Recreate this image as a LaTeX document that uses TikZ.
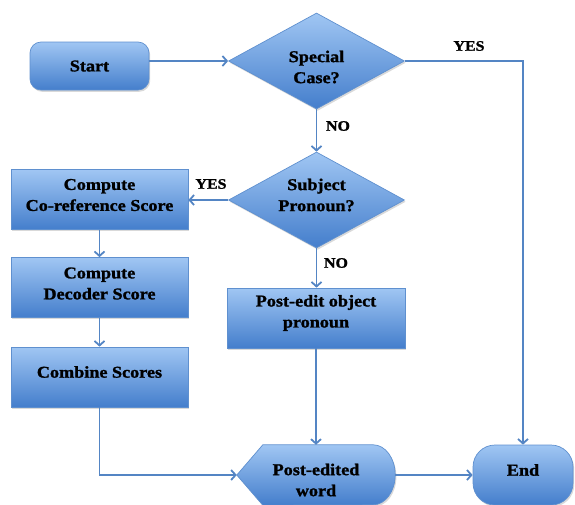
\documentclass[tikz,border=0pt]{standalone}
\usepackage{fontspec}
\setmainfont{Liberation Serif}[FakeStretch=1.1, BoldFeatures={FakeBold=1.3}]
\usetikzlibrary{shapes.geometric,arrows.meta,shadows,calc}
\pgfdeclarelayer{background}
\pgfsetlayers{background,main}
\definecolor{boxtop}{RGB}{160,198,243}
\definecolor{boxbot}{RGB}{68,126,204}
\definecolor{boxline}{RGB}{95,144,207}
\definecolor{arrowc}{RGB}{84,133,196}
\newcommand\labelfont{\fontsize{16.5}{21}\selectfont\bfseries}
\newcommand\tagfont{\fontsize{14.5}{16}\selectfont\bfseries}
\tikzset{
  shade/.style={top color=boxtop, bottom color=boxbot, draw=boxline, line width=0.7pt,
    drop shadow={shadow xshift=1.2pt, shadow yshift=-1.8pt, opacity=0.3}},
  box/.style={shade, rectangle, inner sep=0pt, minimum width=177pt, minimum height=60pt},
  termbox/.style={shade, rectangle, rounded corners=11pt, inner sep=0pt},
  decision/.style={shade, diamond, aspect=1.83, minimum width=176pt, minimum height=96pt, inner sep=0pt},
  txt/.style={font=\labelfont, align=center, inner sep=0pt},
  tag/.style={font=\tagfont, inner sep=0pt},
  arr/.style={draw=arrowc, line width=1.8pt, -{Straight Barb[length=4.5pt,width=10pt]}},
}
\begin{document}
\begin{tikzpicture}[x=1pt, y=-1pt]
\useasboundingbox (0,0) rectangle (575,504);

\node[termbox, minimum width=119pt, minimum height=48pt,
  label={[txt]center:Start}] (start) at (89.5,66) {};
\node[decision, label={[txt, yshift=-6pt]center:Special\\Case?}] (special) at (316.5,61) {};
\node[decision, label={[txt, yshift=5pt]center:Subject\\Pronoun?}] (subject) at (316.5,200) {};
\node[box, label={[txt, yshift=4.5pt]center:Compute\\Co-reference Score}] (coref) at (99.5,199.5) {};
\node[box, label={[txt, yshift=4pt]center:Compute\\Decoder Score}] (decoder) at (99.5,287.5) {};
\node[box, label={[txt, yshift=5pt]center:Combine Scores}] (combine) at (99.5,377) {};
\node[box, minimum width=178pt, label={[txt, yshift=5pt]center:Post-edit object\\pronoun}] (postedit) at (316,318) {};
\node[termbox, rounded corners=22pt, minimum width=100pt, minimum height=60pt,
  label={[txt, yshift=5pt]center:End}] (end) at (523,475) {};
\node[inner sep=0pt, minimum width=158pt, minimum height=60pt,
  label={[txt, yshift=-5pt]center:Post-edited\\word}] (word) at (316,475) {};
\begin{pgfonlayer}{background}
\path[shade] (word.west) -- ([xshift=26pt]word.north west) -- ([xshift=-22pt]word.north east)
  arc[start angle=90, end angle=-90, x radius=22pt, y radius=30pt]
  -- ([xshift=26pt]word.south west) -- cycle;
\end{pgfonlayer}

\node[tag] (yes1) at (469,46) {YES};
\node[tag] (no1) at (338,126) {NO};
\node[tag] (yes2) at (211,184) {YES};
\node[tag] (no2) at (336,263) {NO};

\draw[arr] (start.east |- special.west) -- (special.west);
\draw[arr] (special.east) -| (end.north);
\draw[arr] (special.south) -- (subject.north);
\draw[arr] (subject.west) -- (subject.west -| coref.east);
\draw[arr] (coref.south) -- (decoder.north);
\draw[arr] (decoder.south) -- (combine.north);
\draw[arr] (subject.south) -- (subject.south |- postedit.north);
\draw[arr] (postedit.south) -- (postedit.south |- word.north);
\draw[arr] (combine.south) |- (word.west);
\draw[arr] (word.east) -- (end.west);
\end{tikzpicture}
\end{document}
